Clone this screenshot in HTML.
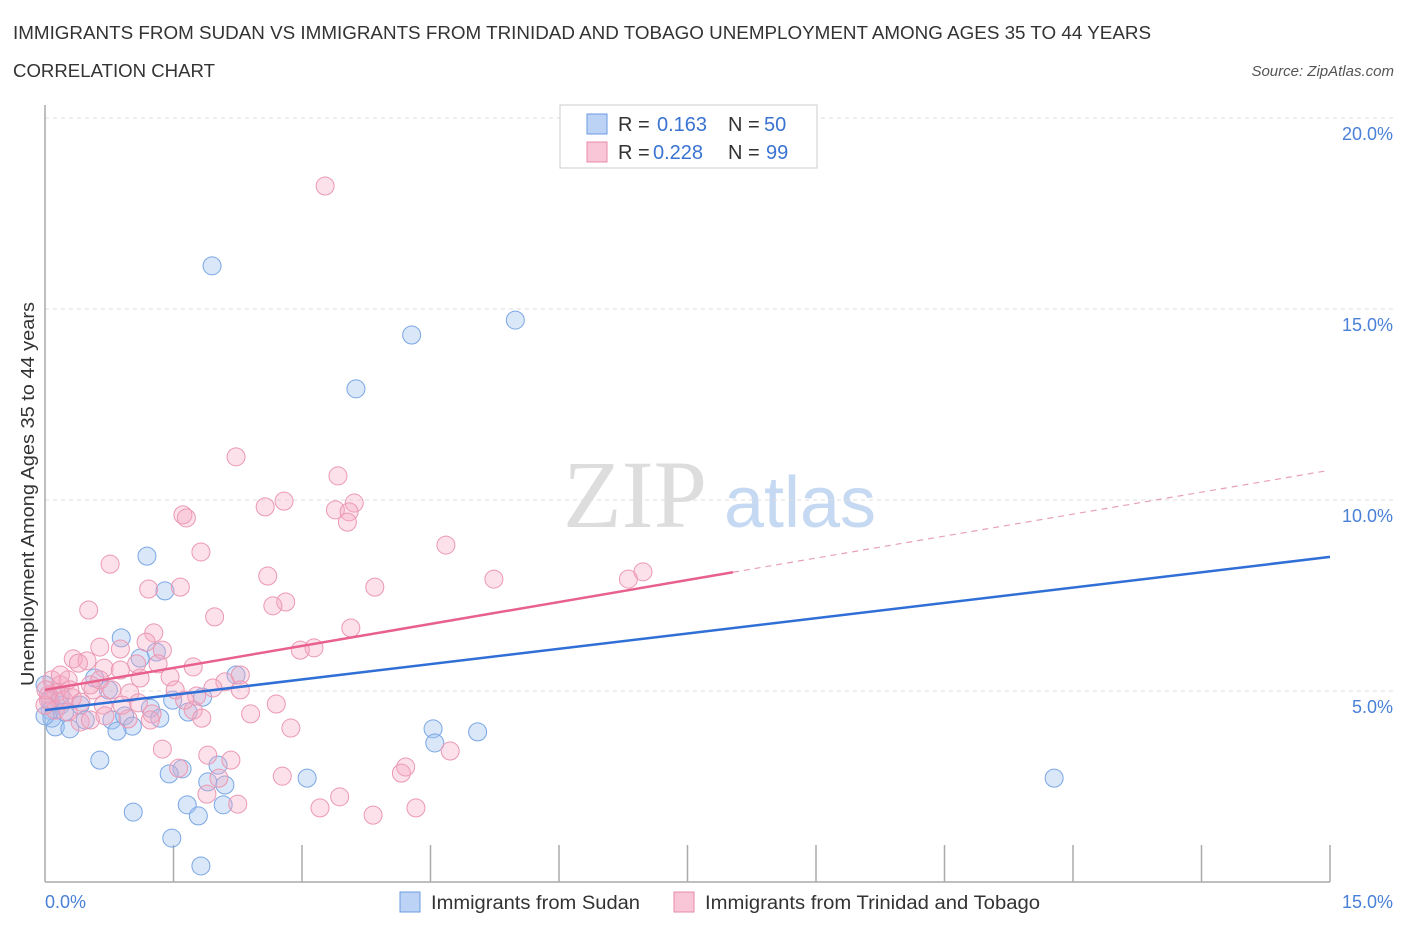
<!DOCTYPE html>
<html><head><meta charset="utf-8"><style>
body{margin:0;background:#fff;font-family:"Liberation Sans",sans-serif;}
svg text{font-family:"Liberation Sans",sans-serif;}
</style></head><body>
<svg id="chart" width="1406" height="930" xmlns="http://www.w3.org/2000/svg">
<text x="13" y="39" font-size="18" fill="#333" textLength="1138" lengthAdjust="spacingAndGlyphs">IMMIGRANTS FROM SUDAN VS IMMIGRANTS FROM TRINIDAD AND TOBAGO UNEMPLOYMENT AMONG AGES 35 TO 44 YEARS</text>
<text x="13" y="77" font-size="18" fill="#333" textLength="202" lengthAdjust="spacingAndGlyphs">CORRELATION CHART</text>
<text x="1394" y="76" font-size="15" fill="#555" font-style="italic" text-anchor="end">Source: ZipAtlas.com</text>
<g>
<text x="635" y="527" font-size="96" fill="#ddd" text-anchor="middle" style="font-family:'Liberation Serif',serif">ZIP</text>
<text x="800" y="527" font-size="72" fill="#c6d9f2" text-anchor="middle">atlas</text>
</g>
<g id="grid"></g>
<line x1="45" y1="105" x2="45" y2="882" stroke="#aaa" stroke-width="1.5"/>
<line x1="45" y1="882" x2="1330" y2="882" stroke="#aaa" stroke-width="1.5"/>
<g id="xticks"></g>
<text transform="translate(34,494) rotate(-90)" font-size="18" fill="#333" text-anchor="middle" textLength="384" lengthAdjust="spacingAndGlyphs">Unemployment Among Ages 35 to 44 years</text>
<text x="45" y="908" font-size="18" fill="#4a80d8">0.0%</text>
<text x="1393" y="908" font-size="18" fill="#4a80d8" text-anchor="end">15.0%</text>
<g id="pts"></g>
<g id="lines"></g>
<g>
<rect x="560" y="105" width="257" height="63" fill="#fff" stroke="#ccc"/>
<rect x="587" y="114" width="20" height="20" fill="#bcd3f5" stroke="#6a9be0"/>
<text x="618" y="131" font-size="20" fill="#333">R =</text>
<text x="657" y="131" font-size="20" fill="#3a73d1">0.163</text>
<text x="728" y="131" font-size="20" fill="#333">N =</text>
<text x="764" y="131" font-size="20" fill="#3a73d1">50</text>
<rect x="587" y="142" width="20" height="20" fill="#f8c6d6" stroke="#e88aa8"/>
<text x="618" y="159" font-size="20" fill="#333">R =</text>
<text x="653" y="159" font-size="20" fill="#3a73d1">0.228</text>
<text x="728" y="159" font-size="20" fill="#333">N =</text>
<text x="766" y="159" font-size="20" fill="#3a73d1">99</text>
</g>
<g>
<rect x="400" y="892" width="20" height="20" fill="#bcd3f5" stroke="#6a9be0"/>
<text x="431" y="909" font-size="19" fill="#333" textLength="209" lengthAdjust="spacingAndGlyphs">Immigrants from Sudan</text>
<rect x="674" y="892" width="20" height="20" fill="#f8c6d6" stroke="#e88aa8"/>
<text x="705" y="909" font-size="19" fill="#333" textLength="335" lengthAdjust="spacingAndGlyphs">Immigrants from Trinidad and Tobago</text>
</g>
</svg>
<script>
const yTicks=[5,10,15,20];
const yTickLabels=["5.0%","10.0%","15.0%","20.0%"];
const xTickVals=[1.5,3,4.5,6,7.5,9,10.5,12,13.5,15];
const sudanX=[1.95,5.49,4.28,3.63,1.19,1.40,0.89,1.30,1.11,2.23,0.58,0.74,1.84,1.49,0.41,0.18,0.06,1.23,1.67,1.34,0.78,0.08,0.23,0.47,0.93,1.02,0.84,0.12,0.29,4.53,4.55,5.05,0.64,2.02,1.60,1.45,1.90,2.10,3.06,11.78,1.66,2.08,1.03,1.79,1.48,1.82,0,0.06,0,0.18];
const sudanY=[16.13,14.71,14.32,12.91,8.53,7.62,6.39,6.02,5.86,5.42,5.34,5.03,4.84,4.76,4.63,4.63,4.50,4.55,4.45,4.29,4.24,4.29,4.45,4.24,4.35,4.08,3.95,4.06,4.01,4.01,3.64,3.93,3.19,3.06,2.96,2.83,2.62,2.54,2.72,2.72,2.02,2.02,1.83,1.73,1.15,0.42,5.16,4.76,4.35,4.90];
const trinX=[3.27,2.23,3.42,2.79,3.61,2.57,1.61,1.65,3.39,3.55,3.53,4.68,0.76,1.82,6.98,5.24,6.81,2.60,1.58,1.21,3.85,2.81,2.66,0.51,1.98,3.57,1.27,3.14,1.18,0.88,0.64,1.37,0.33,0.49,0.39,1.07,1.32,1.73,0.69,0.88,2.28,1.11,0.08,0.27,1.46,2.10,0.18,0.56,0.78,0.99,1.96,1.77,0.13,0.04,2.70,0.32,0.42,0.68,1.09,1.73,1.25,1.83,2.40,0.97,0.41,0.70,2.87,0.04,0.12,0.27,1.37,4.73,1.90,4.21,2.03,1.56,4.16,2.77,1.89,3.44,2.25,3.21,4.33,3.83,0,0.18,0.01,0.53,0.22,0.64,2.28,1.63,0.90,0.29,1.23,2.17,2.98,1.52,0.53];
const trinY=[18.22,11.13,10.63,9.97,9.92,9.82,9.61,9.53,9.74,9.69,9.42,8.82,8.32,8.64,8.12,7.93,7.93,8.01,7.72,7.67,7.72,7.33,7.23,7.12,6.94,6.65,6.52,6.13,6.28,6.10,6.15,6.07,5.84,5.79,5.73,5.71,5.71,5.63,5.60,5.55,5.42,5.34,5.29,5.29,5.37,5.24,5.16,5.03,5.03,4.95,5.08,4.87,4.95,4.90,4.66,4.82,4.71,4.63,4.69,4.50,4.40,4.29,4.40,4.27,4.19,4.35,4.03,4.76,4.50,4.45,3.48,3.43,3.32,3.01,2.72,2.98,2.85,2.77,2.30,2.23,2.04,1.94,1.94,1.75,4.63,5.42,5.03,5.16,4.76,5.29,5.03,4.76,4.63,5.03,4.24,3.19,6.07,5.03,4.24];
const sudanTrend=[4.50,8.51];
const trinTrend=[5.03,10.78];
const trinSolidEnd=8.03;

const NS="http://www.w3.org/2000/svg";
const X=v=>45+v/15*1285;
const Y=v=>882-v/20*764;
function mk(tag,attrs,parent){const e=document.createElementNS(NS,tag);for(const k in attrs)e.setAttribute(k,attrs[k]);parent.appendChild(e);return e;}
const grid=document.getElementById('grid');
yTicks.forEach((t,i)=>{
  const l=mk('line',{x1:45,x2:1393,y1:Y(t),y2:Y(t),stroke:'#ddd','stroke-dasharray':'4,4'},grid);
  
  
  const tx=mk('text',{x:1393,y:Y(t)+22,'font-size':18,fill:'#4a80d8','text-anchor':'end'},grid);
  tx.textContent=yTickLabels[i];
  
  
});
const xt=document.getElementById('xticks');
xTickVals.forEach(v=>{
  const l=mk('line',{x1:X(v),x2:X(v),y1:845,y2:882,stroke:'#aaa','stroke-width':1.5},xt);
  
  
});
const pts=document.getElementById('pts');
sudanX.forEach((v,i)=>{
  const c=mk('circle',{cx:X(v),cy:Y(sudanY[i]),r:9,fill:'rgba(160,196,240,0.4)',stroke:'#7aa6e4','stroke-width':1},pts);
  
  
});
trinX.forEach((v,i)=>{
  const c=mk('circle',{cx:X(v),cy:Y(trinY[i]),r:9,fill:'rgba(245,170,195,0.35)',stroke:'#eb98b3','stroke-width':1},pts);
  
  
});
const ln=document.getElementById('lines');
const b=mk('line',{x1:X(0),y1:Y(sudanTrend[0]),x2:X(15),y2:Y(sudanTrend[1]),stroke:'#2f6fd6','stroke-width':2.5},ln);


const ty=x=>trinTrend[0]+(trinTrend[1]-trinTrend[0])*x/15;
const p=mk('line',{x1:X(0),y1:Y(ty(0)),x2:X(trinSolidEnd),y2:Y(ty(trinSolidEnd)),stroke:'#e8608c','stroke-width':2.5},ln);


const pd=mk('line',{x1:X(trinSolidEnd),y1:Y(ty(trinSolidEnd)),x2:X(14.95),y2:Y(ty(14.95)),stroke:'#e8a0b8','stroke-width':1.2,'stroke-dasharray':'6,5'},ln);


</script>
</body></html>
